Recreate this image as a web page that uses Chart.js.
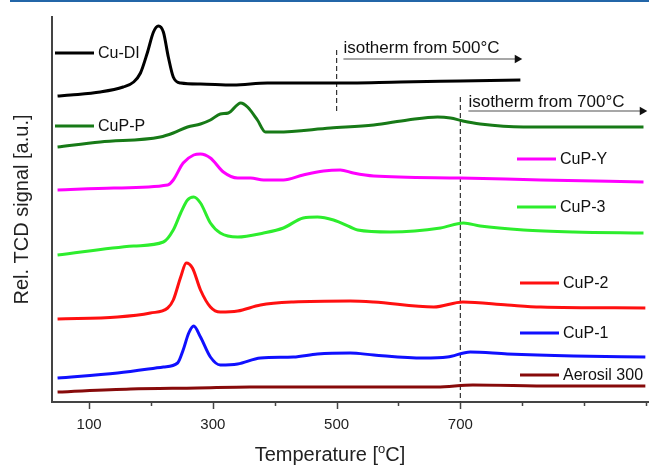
<!DOCTYPE html>
<html><head><meta charset="utf-8">
<script src="https://cdn.jsdelivr.net/npm/chart.js@4.4.1/dist/chart.umd.min.js"></script>
<style>
html,body{margin:0;padding:0;background:#fff;overflow:hidden;}
#wrap{position:relative;width:649px;height:467px;overflow:hidden;}
#strip{position:absolute;left:10px;top:0;width:639px;height:2px;background:#2366a8;z-index:2;}
canvas{display:block;}
</style>
</head><body>
<div id="wrap"><div id="strip"></div><canvas id="c" width="660" height="467" style="width:660px;height:467px"></canvas></div>
<script>
// ---- data (temperature in °C, signal in arbitrary offset units) ----
const seriesNames = ['Cu-DI','CuP-P','CuP-Y','CuP-3','CuP-2','CuP-1','Aerosil 300'];
const seriesColors = ['#000000','#177a17','#ff00ff','#2ded2d','#ff1010','#1010ff','#870a0a'];

const cuDiT = [49,70,118,155,172,183,194,204,212,220,228,236,248,280,333,388,441,490,603,700,797];
const cuDiV = [306,307,310,315,320,329,349,370,376,370,345,325,319,318,317,319,319,319,320,321,322];

const cuPPT = [49,118,215,236,259,280,296,312,325,345,356,372,385,404,490,560,615,663,684,704,732,802,883,996];
const cuPPV = [255,260,265,269,275,278,282,288,289,299,295,282,270,270,274,277,282,285,284,281,278,275,275,275];

const cuPYT = [49,140,227,236,252,269,280,296,317,340,361,382,414,446,479,506,527,560,700,830,996];
const cuPYV = [212,214,217,222,239,247,248,244,230,224,224,222,222,227,231,232,229,226,224,222,220];

const cuP3T = [49,172,220,236,248,259,269,280,296,312,340,382,414,446,469,495,522,534,587,668,705,732,802,883,996];
const cuP3V = [147,156,160,172,189,202,205,199,179,169,165,169,174,184,185,182,175,172,170,174,179,176,172,170,169];

const cuP2T = [49,146,199,227,236,248,257,267,280,296,312,340,377,430,522,560,657,704,776,830,999];
const cuP2V = [83,85,89,94,102,125,139,134,112,95,90,91,97,100,101,100,95,100,97,95,94];

const cuP1T = [49,146,220,243,252,261,269,280,296,312,340,377,430,469,522,560,640,679,716,776,883,999];
const cuP1V = [24,29,35,39,52,69,76,65,45,37,38,44,45,48,49,47,44,45,50,48,46,45];

const aeroT = [49,167,275,360,500,662,720,850,999];
const aeroV = [10,13,14,15,15,15,17,16,16];

const xTicks = [100,200,300,400,500,600,700,800,900,1000];
const xTickLabels = ['100','','300','','500','','700','','',''];

// isotherm markers
const iso500Line = {t:[500,500], v:[352,289]};
const iso700Line = {t:[700,700], v:[305,0]};
const iso500Arrow = {t:[511,792], v:[343,343]};
const iso700Arrow = {t:[713,994], v:[291,291]};
const isoTexts = ['isotherm from 500°C','isotherm from 700°C'];

// ---- build datasets ----
const zip = (t,v) => t.map((x,i)=>({x:x,y:v[i]}));
const curveT = [cuDiT,cuPPT,cuPYT,cuP3T,cuP2T,cuP1T,aeroT];
const curveV = [cuDiV,cuPPV,cuPYV,cuP3V,cuP2V,cuP1V,aeroV];

const datasets = seriesNames.map((n,i)=>({
  label:n, data: zip(curveT[i],curveV[i]), borderColor: seriesColors[i],
  borderWidth: 3, pointRadius: 0, cubicInterpolationMode:'monotone', fill:false
}));
[iso500Line, iso700Line].forEach(l=>datasets.push({
  label:'', data: zip(l.t,l.v), borderColor:'#333', borderWidth:1.2, borderDash:[5,3],
  pointRadius:0, fill:false, tension:0
}));
[iso500Arrow, iso700Arrow].forEach(l=>datasets.push({
  label:'', data: zip(l.t,l.v), borderColor:'#8a8a8a', borderWidth:1.3,
  pointRadius:[0,5], pointStyle:'triangle', rotation:90,
  pointBackgroundColor:'#111', pointBorderColor:'#111', pointBorderWidth:0,
  fill:false, tension:0
}));

const FONT = "'Liberation Sans', Arial, sans-serif";

const annot = {
  id:'annot',
  afterDraw(chart){
    const ctx = chart.ctx, xs = chart.scales.x, ys = chart.scales.y;
    ctx.save();
    // x tick marks
    ctx.strokeStyle = '#444'; ctx.lineWidth = 1.5;
    const base = ys.bottom;
    xTicks.forEach((t,i)=>{
      const px = Math.round(xs.getPixelForValue(t))+0.5;
      const len = xTickLabels[i] ? 7 : 4;
      ctx.beginPath(); ctx.moveTo(px, base); ctx.lineTo(px, base+len); ctx.stroke();
    });
    // curve labels with line samples
    const labelPos = [[55,53],[55,126],[517,159],[517,207],[520,283],[520,333],[520,375]];
    ctx.font = '16px ' + FONT; ctx.textBaseline = 'middle'; ctx.fillStyle = '#111';
    seriesNames.forEach((n,i)=>{
      const [x0,y0] = labelPos[i];
      ctx.strokeStyle = seriesColors[i]; ctx.lineWidth = 3;
      ctx.beginPath(); ctx.moveTo(x0,y0); ctx.lineTo(x0+39,y0); ctx.stroke();
      ctx.fillStyle = '#111';
      ctx.fillText(n, x0+43, y0+1);
    });
    // isotherm texts
    ctx.font = '17px ' + FONT; ctx.textBaseline = 'middle';
    ctx.fillText(isoTexts[0], xs.getPixelForValue(iso500Arrow.t[0]), ys.getPixelForValue(iso500Arrow.v[0])-11);
    ctx.fillText(isoTexts[1], xs.getPixelForValue(iso700Arrow.t[0]), ys.getPixelForValue(iso700Arrow.v[0])-9);
    // x axis title with superscript o
    const cx = 330, cy = 455;
    ctx.fillStyle = '#222';
    const p1 = 'Temperature [', p2 = 'o', p3 = 'C]';
    ctx.font = '20px ' + FONT; const w1 = ctx.measureText(p1).width, w3 = ctx.measureText(p3).width;
    ctx.font = '13px ' + FONT; const w2 = ctx.measureText(p2).width;
    let x = cx - (w1+w2+w3)/2;
    ctx.textAlign = 'left';
    ctx.font = '20px ' + FONT; ctx.fillText(p1, x, cy); x += w1;
    ctx.font = '13px ' + FONT; ctx.fillText(p2, x, cy-6); x += w2;
    ctx.font = '20px ' + FONT; ctx.fillText(p3, x, cy);
    ctx.restore();
  }
};

new Chart(document.getElementById('c'), {
  type:'line',
  data:{datasets:datasets},
  plugins:[annot],
  options:{
    responsive:false, animation:false, devicePixelRatio:1,
    layout:{padding:{top:17,right:0,left:0,bottom:0}},
    plugins:{legend:{display:false}, tooltip:{enabled:false}},
    scales:{
      x:{type:'linear', min:40, max:1005,
        afterBuildTicks(s){ s.ticks = xTicks.map(v=>({value:v})); },
        afterFit(s){ s.height = 65; },
        grid:{display:false, drawTicks:false},
        border:{display:true, color:'#444', width:2},
        ticks:{autoSkip:false, maxRotation:0, padding:14, color:'#222',
          font:{family:FONT, size:15},
          callback(v){ const i = xTicks.indexOf(v); return i>=0 ? xTickLabels[i] : ''; }}
      },
      y:{type:'linear', min:0, max:385,
        afterFit(s){ s.width = 52; },
        grid:{display:false, drawTicks:false},
        border:{display:true, color:'#444', width:2},
        ticks:{display:false},
        title:{display:true, text:'Rel. TCD signal [a.u.]', color:'#222',
          font:{family:FONT, size:20}, padding:{top:10, bottom:0}}
      }
    }
  }
});
</script>
</body></html>
